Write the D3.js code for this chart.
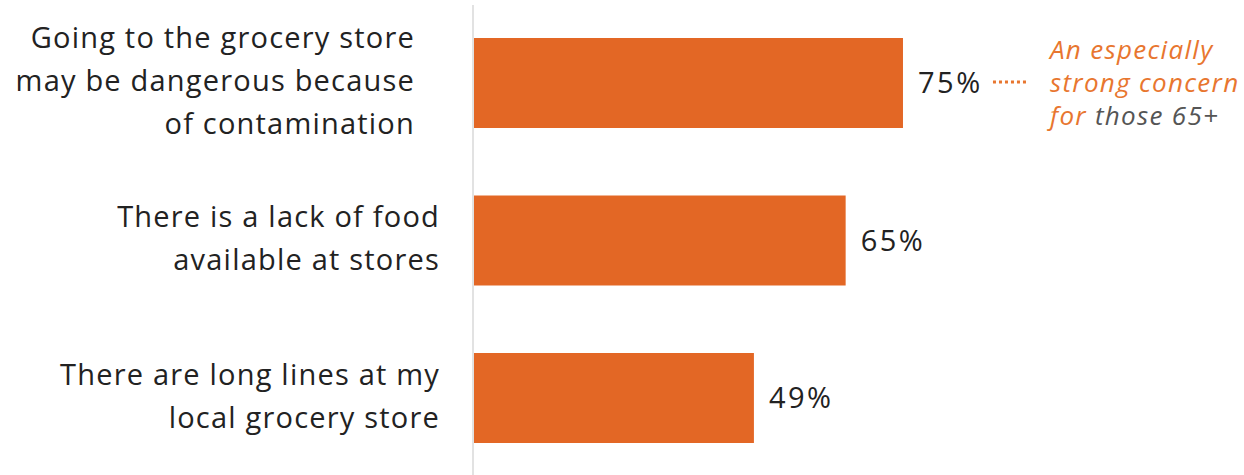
<!DOCTYPE html>
<html>
<head>
<meta charset="utf-8">
<script src="https://cdn.jsdelivr.net/npm/d3@7"></script>
<style>
  html, body { margin: 0; padding: 0; background: #fff; }
  svg text { font-family: "Open Sans", "Noto Sans", sans-serif; }
</style>
</head>
<body>
<svg id="chart" width="1244" height="475"></svg>
<script>
// Grocery shopping concerns (share of respondents)
const categories = [
  ["Going to the grocery store", "may be dangerous because", "of contamination"],
  ["There is a lack of food", "available at stores"],
  ["There are long lines at my", "local grocery store"]
];
const values = [75, 65, 49];
const valueLabels = ["75%", "65%", "49%"];
const noteLines = [
  [["An especially", "#E8762F"]],
  [["strong concern", "#E8762F"]],
  [["for ", "#E8762F"], ["those 65+", "#555555"]]
];

const svg = d3.select("#chart");
const margin = { left: 473 };
const height = 475;

const x = d3.scaleLinear().domain([0, 100]).range([margin.left, margin.left + 573.3]);
const y = d3.scaleBand()
  .domain(d3.range(values.length))
  .range([0, 481])
  .paddingInner(0.4286)
  .paddingOuter(0.2413);

// vertical baseline
svg.append("line")
  .attr("x1", x(0)).attr("x2", x(0))
  .attr("y1", 5).attr("y2", height)
  .attr("stroke", "#d9d9d9").attr("stroke-width", 1.5);

// bars
svg.selectAll("rect.bar").data(values).join("rect")
  .attr("class", "bar")
  .attr("x", x(0) + 1)
  .attr("y", (d, i) => y(i))
  .attr("width", d => x(d) - x(0) - 1)
  .attr("height", y.bandwidth())
  .attr("fill", "#E36725");

// value labels
svg.selectAll("text.val").data(values).join("text")
  .attr("class", "val")
  .attr("x", d => x(d) + 15)
  .attr("y", (d, i) => y(i) + y.bandwidth() / 2)
  .attr("dy", "0.36em")
  .attr("font-size", 29)
  .attr("letter-spacing", 2.5)
  .attr("fill", "#222")
  .text((d, i) => valueLabels[i]);

// category labels, right-aligned beside the baseline
const lineH = 43;
categories.forEach((lines, i) => {
  const cy = y(i) + y.bandwidth() / 2 - 2;
  const rx = i === 0 ? x(0) - 58 : x(0) - 33;
  const t = svg.append("text")
    .attr("text-anchor", "end")
    .attr("font-size", 29)
    .attr("letter-spacing", 1.2)
    .attr("fill", "#222");
  lines.forEach((ln, j) => {
    t.append("tspan")
      .attr("x", rx)
      .attr("y", cy + (j - (lines.length - 1) / 2) * lineH)
      .attr("dy", "0.36em")
      .text(ln);
  });
});

// callout for the top bar
const cy0 = y(0) + y.bandwidth() / 2;
const lx = x(values[0]) + 90;
svg.append("line")
  .attr("x1", lx).attr("x2", lx + 35)
  .attr("y1", cy0 - 1).attr("y2", cy0 - 1)
  .attr("stroke", "#E8762F").attr("stroke-width", 3)
  .attr("stroke-dasharray", "3,3");

const note = svg.append("text")
  .attr("font-size", 26)
  .attr("font-style", "italic")
  .attr("letter-spacing", 1.3);
noteLines.forEach((parts, j) => {
  const ts = note.append("tspan")
    .attr("x", lx + 57)
    .attr("y", cy0 + (j - 1) * 33)
    .attr("dy", "0.36em");
  parts.forEach(([txt, col], k) => {
    (k === 0 ? ts : note.append("tspan")).attr("fill", col).text(txt);
  });
});
</script>
</body>
</html>
